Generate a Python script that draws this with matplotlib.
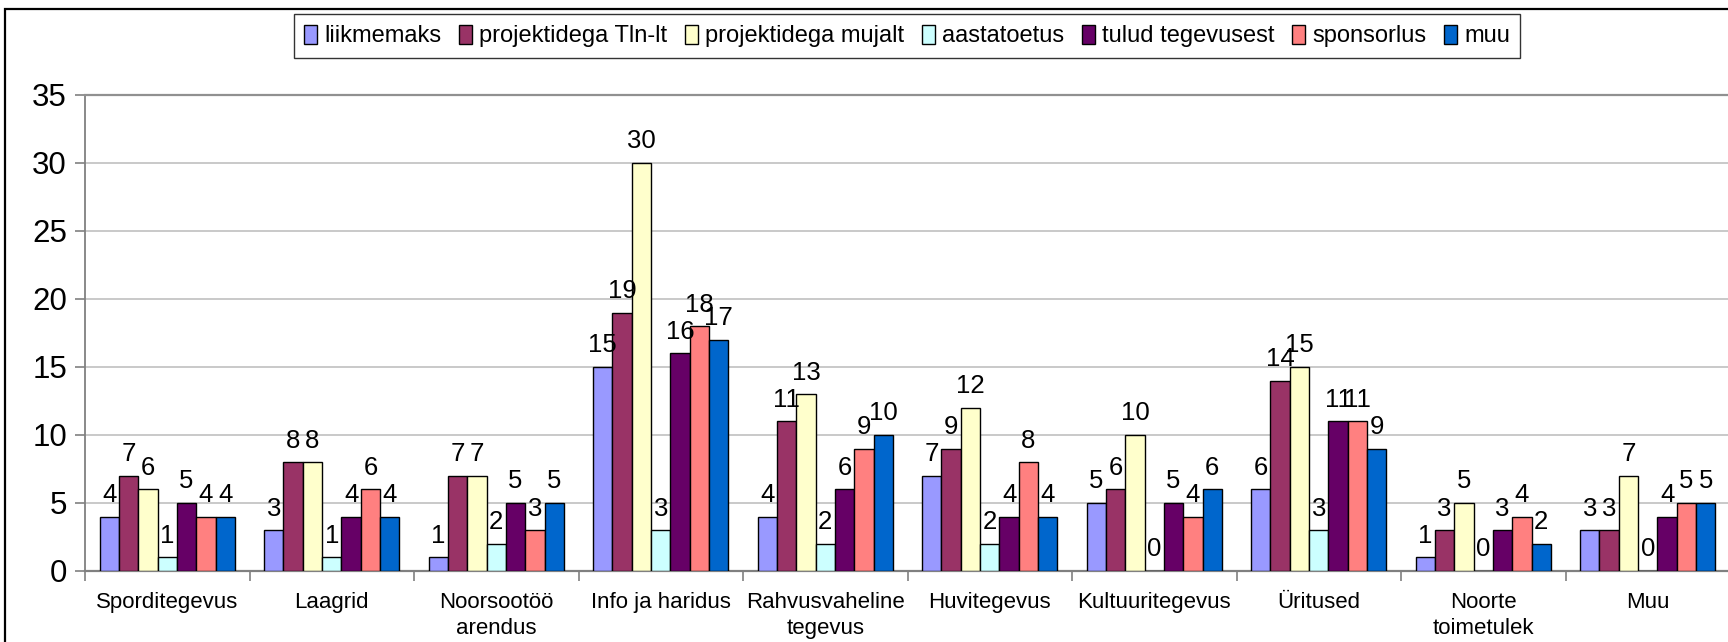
import numpy as np
import matplotlib.pyplot as plt
from matplotlib.patches import Rectangle

plt.rcParams['font.family'] = ['Liberation Sans', 'DejaVu Sans']

categories = ['Sporditegevus', 'Laagrid', 'Noorsootöö\narendus', 'Info ja haridus',
              'Rahvusvaheline\ntegevus', 'Huvitegevus', 'Kultuuritegevus', 'Üritused',
              'Noorte\ntoimetulek', 'Muu']
series_names = ['liikmemaks', 'projektidega Tln-lt', 'projektidega mujalt', 'aastatoetus',
                'tulud tegevusest', 'sponsorlus', 'muu']
liikmemaks = [4, 3, 1, 15, 4, 7, 5, 6, 1, 3]
proj_tln = [7, 8, 7, 19, 11, 9, 6, 14, 3, 3]
proj_mujalt = [6, 8, 7, 30, 13, 12, 10, 15, 5, 7]
aastatoetus = [1, 1, 2, 3, 2, 2, 0, 3, 0, 0]
tulud = [5, 4, 5, 16, 6, 4, 5, 11, 3, 4]
sponsorlus = [4, 6, 3, 18, 9, 8, 4, 11, 4, 5]
muu = [4, 4, 5, 17, 10, 4, 6, 9, 2, 5]
all_series = [liikmemaks, proj_tln, proj_mujalt, aastatoetus, tulud, sponsorlus, muu]
colors = ['#9999FF', '#993366', '#FFFFCC', '#CCFFFF', '#660066', '#FF8080', '#0066CC']

fig = plt.figure(figsize=(17.28, 6.42), dpi=100)
ax = fig.add_axes([85/1728, 1 - 571/642, 1645/1728, (571 - 95)/642])

# outer chart border (runs off the canvas at right/bottom)
fig.patches.append(Rectangle((5/1728, -0.05), 1.2, 1 - 9/642 + 0.05, transform=fig.transFigure,
                             fill=False, edgecolor='black', linewidth=1.6, zorder=0))

n = len(all_series)
bw = 1 / (n + 1.5)
x = np.arange(len(categories)) + 0.5
for i, (vals, c) in enumerate(zip(all_series, colors)):
    pos = x + (i - (n - 1) / 2) * bw
    ax.bar(pos, vals, width=bw, color=c, edgecolor='black', linewidth=1.0, zorder=3)
    for p, v in zip(pos, vals):
        ax.text(p, v + 0.7, str(v), ha='center', va='bottom', fontsize=18.5, zorder=4)

ax.set_xlim(0, len(categories))
ax.set_ylim(0, 35)
ax.set_yticks(range(0, 36, 5))
ax.set_xticks(range(0, len(categories) + 1))
ax.set_xticklabels([])
ax.set_xticks(x, minor=True)
ax.set_xticklabels(categories, minor=True, fontsize=16, linespacing=1.35)
ax.tick_params(axis='x', which='minor', length=0, pad=15)
ax.tick_params(axis='x', which='major', length=7, width=1.2, color='#808080', direction='out')
ax.tick_params(axis='y', length=7, width=1.2, color='#808080', direction='out', labelsize=22.5, pad=6)
ax.grid(axis='y', color='#c0c0c0', linewidth=1.2, zorder=0)
ax.spines['right'].set_visible(False)
ax.spines['top'].set_color('#909090')
ax.spines['top'].set_linewidth(1.6)
ax.spines['left'].set_color('#808080')
ax.spines['left'].set_linewidth(1.3)
ax.spines['bottom'].set_color('#808080')
ax.spines['bottom'].set_linewidth(1.6)

handles = [Rectangle((0, 0), 1, 1, facecolor=c, edgecolor='black', linewidth=1.0) for c in colors]
leg = fig.legend(handles, series_names, loc='center', bbox_to_anchor=(907/1728, 1 - 36/642),
                 ncol=n, fontsize=17, frameon=True, fancybox=False, handlelength=0.55,
                 handleheight=0.9, handletextpad=0.3, columnspacing=0.75, borderpad=0.45,
                 borderaxespad=0)
leg.get_frame().set_edgecolor('black')
leg.get_frame().set_linewidth(1.0)

fig.savefig('out.png', dpi=100)
